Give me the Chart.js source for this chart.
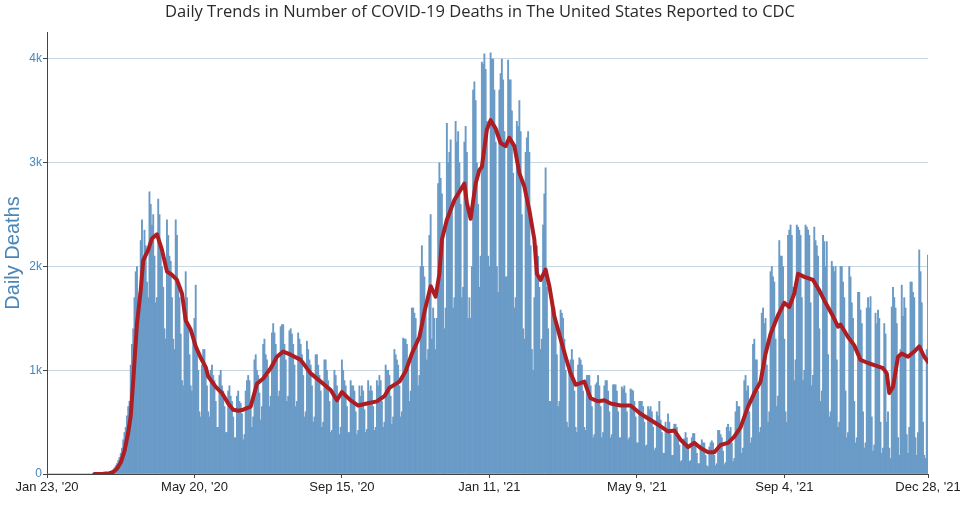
<!DOCTYPE html>
<html>
<head>
<meta charset="utf-8">
<script src="https://cdn.jsdelivr.net/npm/chart.js@4.4.1/dist/chart.umd.min.js"></script>
<style>
html,body{margin:0;padding:0;background:#fff;}
#wrap{width:960px;height:524px;position:relative;}
</style>
</head>
<body>
<div id="wrap"><canvas id="c" width="960" height="524"></canvas></div>
<script>
// Day 0 = Jan 23, 2020; one value per day (rows of 7 days, Thu..Wed)
const startDate = "2020-01-23";
const dailyDeaths = [
0,0,0,0,0,0,0,
0,0,0,0,0,0,0,
0,0,0,0,0,0,0,
0,0,0,0,0,0,0,
0,0,0,0,0,0,0,
0,0,1,0,1,1,2,
3,2,4,3,4,5,7,
10,15,20,25,40,60,80,
100,130,160,200,250,330,400,
450,560,650,700,1050,1250,1400,
1700,1950,2000,1650,1750,2250,2450,
2100,2350,2200,1850,1700,2720,2600,
2400,2500,2100,1650,1700,2650,2500,
2200,2000,1800,1400,1300,2450,2300,
2100,2050,1700,1300,1200,2450,2300,
1850,1700,1350,900,850,1600,1950,
1700,1400,1150,850,800,1350,1500,
1820,1200,1000,600,550,1050,1200,
1200,1050,850,600,550,1000,1050,
950,900,700,450,450,950,1000,
850,800,650,400,400,800,850,
750,700,550,350,350,750,800,
700,680,580,330,380,800,900,
950,900,700,450,550,1100,1150,
1000,950,780,520,650,1250,1300,
1150,1100,950,650,750,1360,1450,
1360,1250,1100,750,800,1420,1440,
1440,1250,1100,700,750,1380,1400,
1350,1250,1050,650,700,1360,1300,
1250,1150,950,550,600,1280,1200,
1100,1050,850,500,550,1150,1150,
1050,950,800,450,500,1100,1100,
1000,900,700,400,420,800,1000,
950,850,700,380,450,1100,1000,
900,850,650,400,400,900,850,
850,800,600,380,420,850,750,
850,800,620,400,430,900,800,
850,800,650,420,450,900,850,
950,900,700,450,500,1050,1000,
1000,950,750,480,550,1200,1150,
1100,1050,850,550,600,1310,1300,
1300,1250,1100,700,800,1600,1600,
1550,1500,1300,850,950,2000,2200,
2000,1900,1600,1100,1200,2300,2500,
1300,1600,1500,1200,1500,2800,3000,
2850,2700,2300,1400,1600,3380,3000,
3100,3220,2600,1600,1700,3400,3200,
3300,3000,2600,1700,1800,3200,3350,
3100,1500,1700,1500,2000,3700,3780,
3600,3000,2600,1800,2100,3970,3950,
4050,3900,3400,2100,2000,4060,4000,
4000,3700,3200,2000,1750,3700,3860,
4000,3800,3300,1900,1900,3990,3800,
3800,3500,2900,1600,1700,3400,3350,
3600,3300,2500,1400,1300,3100,3240,
3300,3100,2200,1200,1000,1700,2000,
2200,2100,1800,1200,1300,2400,2700,
2950,1800,1400,700,700,1650,1600,
1600,1500,1150,650,700,1580,1550,
1500,1300,1000,500,450,1000,1100,
1200,1100,800,450,400,1050,1120,
1100,1050,800,450,420,950,950,
950,850,650,350,380,860,880,
950,850,650,350,400,850,900,
900,800,600,350,380,860,860,
860,800,600,350,350,840,820,
850,780,600,330,350,820,810,
800,700,550,300,300,700,700,
700,650,500,270,280,650,620,
650,600,450,230,250,600,560,
700,520,400,200,200,500,430,
580,500,380,180,180,480,480,
450,380,280,120,130,330,340,
400,350,250,120,130,350,390,
390,300,200,100,100,280,330,
300,300,180,80,70,260,300,
320,300,180,80,100,420,420,
380,350,220,90,110,450,480,
410,450,300,120,150,600,700,
650,650,450,200,250,900,950,
800,850,600,300,350,1250,1300,
1100,1100,800,400,450,1550,1600,
1450,1500,1050,500,600,1950,2000,
1900,1850,1300,650,750,2250,2100,
2100,2000,1300,600,500,2300,2350,
2400,2300,1800,900,1100,2400,2380,
2350,2300,1700,900,1000,2400,2380,
2350,2300,1650,850,950,2380,2250,
2200,2100,1400,700,800,2300,2240,
2000,2240,1150,550,600,2050,2000,
1950,2000,1100,450,500,2000,2000,
1850,1700,800,350,400,2000,1900,
1650,1500,700,300,350,1750,1750,
1580,1450,600,250,300,1600,1700,
1600,1710,550,220,280,1550,1450,
1580,1500,500,200,250,1450,1350,
500,600,250,150,1610,1800,1700,
1600,1450,350,180,1200,1820,1520,
1700,1600,380,200,450,1850,1850,
1750,1700,350,180,400,2160,1950,
1650,500,180,150,1200,2110
];

// 7-day moving average, day offsets and values
const avgDay = [38,45,50,53,56,59,62,65,67,69,
72,75,77,81,84,88,92,96,100,104,
108,111,115,119,123,127,129,135,140,145,
149,153,157,163,168,173,179,184,189,195,
203,211,219,227,232,236,243,249,256,264,
270,274,282,287,292,298,302,307,311,314,
316,320,326,331,334,336,339,343,346,348,
352,355,359,363,367,370,374,378,382,386,
390,392,395,399,402,406,411,415,419,423,
430,435,441,446,451,459,467,475,483,491,
497,502,507,513,518,523,529,534,539,545,
550,555,561,566,571,575,579,585,590,594,
598,601,606,613,618,623,629,633,635,641,
646,651,657,662,669,672,674,677,681,684,
689,694,698,702,705];
const avgDeaths = [0,2,8,20,50,110,220,400,560,900,
1450,1770,2060,2160,2270,2310,2160,1950,1920,1870,
1740,1480,1390,1230,1120,1030,940,840,780,680,
620,610,620,650,870,920,1020,1130,1180,1150,
1100,970,890,810,710,790,710,660,680,700,
750,830,890,990,1160,1320,1560,1810,1710,1930,
2260,2450,2640,2740,2800,2610,2460,2800,2930,2960,
3320,3410,3330,3190,3160,3240,3160,2900,2770,2540,
2260,1930,1870,1970,1810,1520,1300,1130,970,860,
890,730,700,710,680,660,660,580,520,460,
410,420,330,260,300,250,210,210,280,300,
360,450,650,780,890,1160,1350,1530,1650,1610,
1740,1930,1900,1870,1770,1650,1520,1420,1440,1320,
1240,1100,1070,1050,1020,970,780,840,1130,1160,
1130,1180,1230,1130,1080];

const xTickDays = [0,118,236,354,472,590,705];
const xTickLabels = ["Jan 23, '20","May 20, '20","Sep 15, '20","Jan 11, '21","May 9, '21","Sep 4, '21","Dec 28, '21"];
const yTickValues = [0,1000,2000,3000,4000];
const yTickLabels = ["0","1k","2k","3k","4k"];
const titleText = "Daily Trends in Number of COVID-19 Deaths in The United States Reported to CDC";
const yTitle = "Daily Deaths";

const barPoints = dailyDeaths.map((v,i)=>({x:i,y:v}));
const avgPoints = avgDay.map((d,i)=>({x:d,y:avgDeaths[i]}));

Chart.defaults.font.family = "'Liberation Sans', Arial, sans-serif";

new Chart(document.getElementById('c'), {
  type: 'bar',
  data: {
    datasets: [
      {
        type: 'line',
        label: '7-Day Moving Average',
        data: avgPoints,
        borderColor: '#ad1d22',
        borderWidth: 4,
        pointRadius: 0,
        tension: 0,
        borderJoinStyle: 'round',
        borderCapStyle: 'round',
        fill: false,
        order: 0
      },
      {
        type: 'bar',
        label: 'Daily Deaths',
        data: barPoints,
        backgroundColor: '#6a9bc7',
        borderWidth: 0,
        barPercentage: 1.0,
        categoryPercentage: 1.0,
        order: 1
      }
    ]
  },
  options: {
    responsive: false,
    animation: false,
    devicePixelRatio: 1,
    layout: { padding: { left: 0, right: 0, top: 0, bottom: 0 } },
    plugins: {
      legend: { display: false },
      tooltip: { enabled: false },
      title: {
        display: true,
        text: titleText,
        color: '#2a2a2a',
        font: { family: "'Open Sans', sans-serif", size: 16.5, weight: 'normal' },
        padding: { top: 2, bottom: 10.2 }
      }
    },
    scales: {
      x: {
        type: 'linear',
        min: 0,
        max: 705,
        offset: false,
        grid: { offset: false, drawOnChartArea: false, drawTicks: true, tickLength: 4, tickColor: '#444' },
        border: { color: '#444', width: 1 },
        ticks: {
          autoSkip: false,
          maxRotation: 0,
          minRotation: 0,
          padding: 2,
          color: '#222',
          font: { family: "'Liberation Sans', Arial, sans-serif", size: 13 },
          callback: (v) => { const i = xTickDays.indexOf(v); return i >= 0 ? xTickLabels[i] : ''; }
        },
        afterBuildTicks: (s) => { s.ticks = xTickDays.map(v => ({ value: v })); },
        afterFit: (s) => { s.height = 50; s.paddingRight = 32; s.paddingLeft = 0; }
      },
      y: {
        type: 'linear',
        min: 0,
        max: 4260,
        grid: { color: '#c9d9e3', lineWidth: 1, tickColor: '#444', tickLength: 4 },
        border: { color: '#444', width: 1 },
        ticks: {
          padding: 1,
          color: '#4a86b8',
          font: { family: "'Liberation Sans', Arial, sans-serif", size: 12 },
          callback: (v) => { const i = yTickValues.indexOf(v); return i >= 0 ? yTickLabels[i] : ''; }
        },
        afterBuildTicks: (s) => { s.ticks = yTickValues.map(v => ({ value: v })); },
        title: {
          display: true,
          text: yTitle,
          color: '#4a86b8',
          font: { family: "'Liberation Sans', Arial, sans-serif", size: 20 },
          padding: { top: 1, bottom: 0 }
        },
        afterFit: (s) => { s.width = 47; }
      }
    }
  }
});
</script>
</body>
</html>
